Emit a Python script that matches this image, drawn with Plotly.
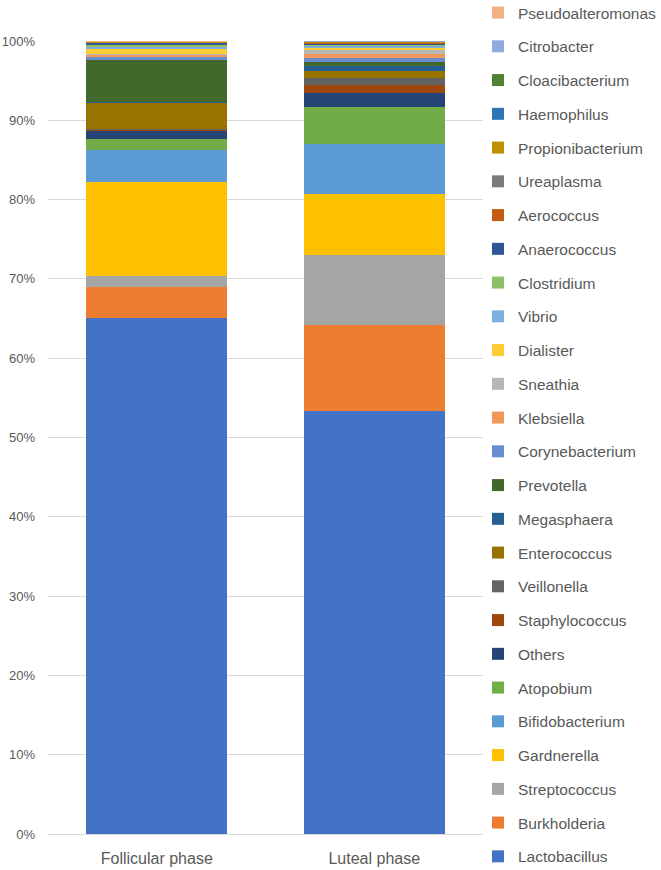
import plotly.graph_objects as go

phases = ["Follicular phase", "Luteal phase"]

taxa = [
    "Lactobacillus", "Burkholderia", "Streptococcus", "Gardnerella", "Bifidobacterium",
    "Atopobium", "Others", "Staphylococcus", "Veillonella", "Enterococcus",
    "Megasphaera", "Prevotella", "Corynebacterium", "Klebsiella", "Sneathia",
    "Dialister", "Vibrio", "Clostridium", "Anaerococcus", "Aerococcus",
    "Ureaplasma", "Propionibacterium", "Haemophilus", "Cloacibacterium", "Citrobacter",
    "Pseudoalteromonas",
]

follicular = [
    65.1, 3.9, 1.35, 11.9, 4.05,
    1.35, 1.05, 0.2, 0.05, 3.3,
    0.05, 5.3, 0.5, 0.2, 0.05,
    0.7, 0.25, 0.15, 0.35, 0.03,
    0.03, 0.03, 0.04, 0.02, 0.02,
    0.08,
]

luteal = [
    53.4, 10.8, 8.85, 7.65, 6.25,
    4.75, 1.7, 1.0, 0.95, 0.85,
    0.7, 0.45, 0.5, 0.5, 0.5,
    0.35, 0.2, 0.15, 0.12, 0.1,
    0.08, 0.06, 0.05, 0.03, 0.03,
    0.03,
]

colors = [
    "#4472C4", "#ED7D31", "#A5A5A5", "#FFC000", "#5B9BD5",
    "#70AD47", "#264478", "#9E480E", "#636363", "#997300",
    "#255E91", "#43682B", "#698ED0", "#F1975A", "#B7B7B7",
    "#FFCD33", "#7CAFDD", "#8CC168", "#2F5597", "#C55A11",
    "#7B7B7B", "#BF9000", "#2E75B6", "#548235", "#8FAADC",
    "#F4B183",
]

y_tick_vals = [0, 10, 20, 30, 40, 50, 60, 70, 80, 90, 100]
y_tick_text = ["0%", "10%", "20%", "30%", "40%", "50%", "60%", "70%", "80%", "90%", "100%"]

fig = go.Figure()
for i, name in enumerate(taxa):
    fig.add_trace(go.Bar(
        x=phases,
        y=[follicular[i], luteal[i]],
        name=name,
        legendgroup=name,
        legendrank=1000 - i,
        marker=dict(color=colors[i], line=dict(width=0)),
    ))

fig.update_layout(
    barmode="stack",
    bargap=0.35,
    width=661,
    height=870,
    margin=dict(l=48, r=178, t=41, b=36, autoexpand=False),
    plot_bgcolor="white",
    paper_bgcolor="white",
    font=dict(family="Liberation Sans, Arial, sans-serif", color="#595959"),
    legend=dict(
        xref="paper", yref="paper",
        x=(478 - 48) / 435, xanchor="left",
        y=(834 + 4) / 793, yanchor="top",
        traceorder="grouped",
        tracegroupgap=10.6,
        maxheight=900,
        font=dict(size=15.5, color="#595959"),
        bgcolor="rgba(0,0,0,0)",
    ),
    yaxis=dict(
        range=[0, 100],
        tickvals=y_tick_vals,
        ticktext=y_tick_text,
        showgrid=True,
        gridcolor="#D9D9D9",
        gridwidth=1,
        zeroline=False,
        showline=False,
        tickfont=dict(size=13, color="#595959"),
        ticks="",
        ticklabelstandoff=12,
    ),
    xaxis=dict(
        showline=True,
        linecolor="#D9D9D9",
        linewidth=1,
        tickfont=dict(size=16, color="#595959"),
        ticks="",
        ticklabelstandoff=10,
    ),
)

fig.write_html(
    "out.html",
    config={"displayModeBar": False},
    post_script="document.body.style.margin='0';document.body.style.overflow='hidden';",
)
